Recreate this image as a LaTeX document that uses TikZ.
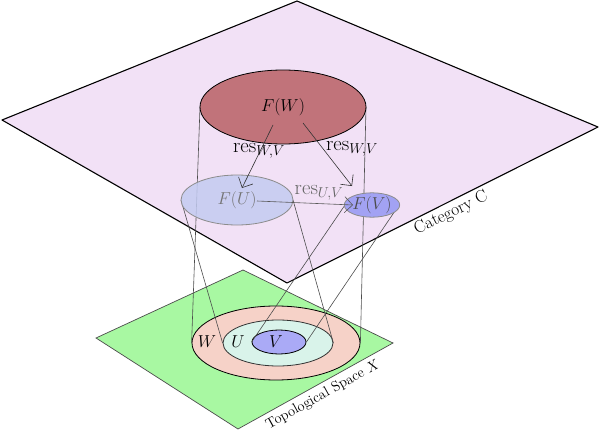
\documentclass[tikz,border=0pt]{standalone}
\usepackage{amsmath}
\usepackage{tikz}
\usetikzlibrary{arrows.meta,shapes.geometric,positioning}
\definecolor{catfill}{HTML}{F2E1F6}
\definecolor{topfill}{HTML}{A8F8A2}
\definecolor{wfill}{HTML}{F6D2C8}
\definecolor{ufill}{HTML}{D9F3EA}
\definecolor{vfill}{HTML}{AAAAF6}
\definecolor{fwfill}{HTML}{C1737A}
\definecolor{fufill}{HTML}{C3CBF1}
\definecolor{fvfill}{HTML}{A2A2F3}
\tikzset{
  catplane/.style={fill=catfill, draw=black, line width=1.1pt, line join=round},
  topplane/.style={fill=topfill, draw=black!70, line width=0.7pt},
  openset/.style={ellipse, draw=black, line width=0.8pt, inner sep=0pt},
  cone/.style={draw=black!70, line width=0.6pt},
  resmap/.style={draw=black!80, line width=0.6pt,
    -{Straight Barb[length=8pt,width=16pt]}},
}

\begin{document}
\begin{tikzpicture}[x=1pt, y=-1pt, every node/.style={font=\large}]
\useasboundingbox (0,0) rectangle (600,431);

%% Category C
\draw[catplane] (2,120) -- (297,1) -- (598,127) -- (287,283) -- cycle;
\node[rotate=26, font=\LARGE] (catlabel) at (451,213) {Category C};

%% Topological space X
\draw[topplane] (96,338) -- (243,270) -- (393,343) -- (238,429) -- cycle;
\node[rotate=29, font=\Large] (toplabel) at (323,395) {Topological Space $X$};

% nested open sets
\node[openset, fill=wfill, minimum width=168pt, minimum height=74pt] (W) at (276,343) {};
\node[openset, fill=ufill, draw=black!80, minimum width=110pt, minimum height=46pt] (U) at (278,343) {};
\node[openset, fill=vfill, minimum width=54pt, minimum height=24pt] (V) at (279,342) {};
\node[font=\LARGE] (lW) at (207,342) {$W$};
\node[font=\LARGE] (lU) at (238,342) {$U$};
\node[font=\LARGE] (lV) at (276,342) {$V$};

%% Sections over the open sets
\coordinate (FWc) at (283,107);
\coordinate (FUc) at (237,200);
\coordinate (FVc) at (372,205);

% cones down to X
\draw[cone] (FWc) ++(-83,0) coordinate (FWw) -- (W.west);
\draw[cone] (FWc) ++(83,0) coordinate (FWe) -- (W.east);
\draw[cone] (FUc) ++(-56,0) coordinate (FUw) -- (U.west);
\draw[cone] (FUc) ++(56,0) coordinate (FUe) -- (U.east);
\draw[cone] (FVc) ++(-27,0) coordinate (FVw) -- (V.west);
\draw[cone] (FVc) ++(27,0) coordinate (FVe) -- (V.east);

\node[openset, fill=fwfill, font=\LARGE, minimum width=166pt, minimum height=74pt] (FW) at (FWc) {$F(W)$};
\node[openset, fill=fufill, fill opacity=0.85, text opacity=1, draw=black!45,
  text=black!55, font=\LARGE, minimum width=112pt, minimum height=50pt] (FU) at (FUc) {$F(U)$};
\node[openset, fill=fvfill, draw=black!45, text=black!70, font=\LARGE,
  minimum width=55pt, minimum height=24pt] (FV) at (FVc) {$F(V)$};

%% Restriction maps
\coordinate (r1s) at (273,125);
\coordinate (r1t) at (242,188);
\coordinate (r2s) at (303,123);
\coordinate (r2t) at (352,186);
\coordinate (r3s) at (257,201);
\coordinate (r3t) at (353,205);
\draw[resmap] (r1s) -- (r1t);
\draw[resmap] (r2s) -- (r2t);
\draw[resmap, draw=black!65] (r3s) -- (r3t);
\node[font=\huge] (res1) at (259,151) {$\mathrm{res}_{W,V}$};
\node[font=\huge] (res2) at (352,149) {$\mathrm{res}_{W,V}$};
\node[font=\huge, text=black!60] (res3) at (319,193) {$\mathrm{res}_{U,V}$};

\end{tikzpicture}
\end{document}
